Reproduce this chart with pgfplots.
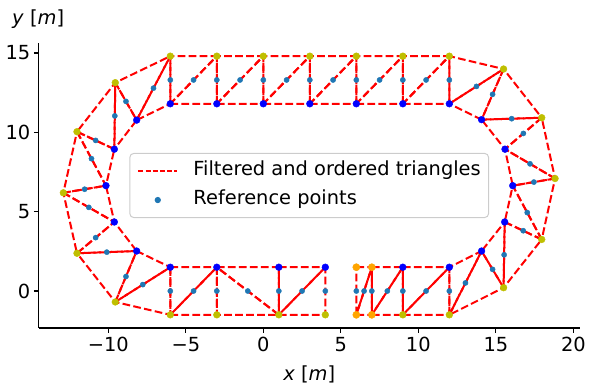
\documentclass[border=0pt]{standalone}
\usepackage{fontspec}
\setmainfont{DejaVu Sans}
\usepackage{pgfplots}
\pgfplotsset{compat=1.18}
\definecolor{tabblue}{HTML}{1F77B4}
\definecolor{mplyellow}{rgb}{0.75,0.75,0}
\definecolor{mplorange}{HTML}{FFA500}
\definecolor{mplblue}{rgb}{0,0,1}
\tikzset{tri/.style={color=red, line width=2pt, dash pattern=on 7.7pt off 3.3pt, line cap=butt, line join=round, mark=none}}
\newcommand\tri[3]{\addplot[tri, forget plot] coordinates {#1 #2 #3 #1};}
\newcommand\fs{\fontsize{19.4}{23}\selectfont}
\begin{document}
\begin{tikzpicture}
\begin{axis}[
  name=ax, scale only axis, width=541pt, height=285pt,
  xmin=-14.49, xmax=20.41, ymin=-2.33, ymax=15.63,
  axis x line*=bottom, axis y line*=left,
  axis line style={-, line width=1.1pt, black},
  tick align=outside, major tick length=4.9pt,
  tick style={line width=1.1pt, black},
  xtick={-10,-5,0,5,10,15,20}, xticklabels={−10,−5,0,5,10,15,20},
  ytick={0,5,10,15}, yticklabels={0,5,10,15},
  tick label style={font=\fs},
  xticklabel style={yshift=-1pt},
  xlabel={\textit{x} [\textit{m}]}, ylabel={\textit{y} [\textit{m}]},
  label style={font=\fs},
  xlabel style={at={(axis description cs:0.5,0)}, anchor=center, yshift=-46pt},
  ylabel style={at={(axis description cs:0,1)}, rotate=-90, anchor=center, yshift=24pt, xshift=-0.5pt},
  legend style={at={(0.5,0.5)}, anchor=center, draw=black!20, line width=1pt,
    rounded corners=3.9pt, fill=white, font=\fs,
    inner xsep=7.8pt, inner ysep=7.8pt, row sep=9.7pt, column sep=15.5pt,
    nodes={inner sep=0pt, text height=14.5pt, text depth=4.9pt}},
  legend cell align=left,
  legend image code/.code={\draw[mark repeat=2,mark phase=2,#1] plot coordinates {(0pt,0pt) (19.45pt,0pt) (38.9pt,0pt)};},
  clip=false,
]
\addlegendimage{color=red, line width=1.4pt, dash pattern=on 5pt off 2.2pt, line cap=butt, mark=none}
\addlegendentry{Filtered and ordered triangles}
\addlegendimage{only marks, mark=*, color=tabblue, mark size=2.6pt}
\addlegendentry{Reference points}

% bottom straight
\tri{(-6,1.5)}{(-3,1.5)}{(-6,-1.5)}
\tri{(-6,-1.5)}{(-3,-1.5)}{(-3,1.5)}
\tri{(-3,1.5)}{(1,1.5)}{(1,-1.5)}
\tri{(-3,1.5)}{(-3,-1.5)}{(1,-1.5)}
\tri{(1,1.5)}{(4,1.5)}{(1,-1.5)}
\tri{(1,-1.5)}{(4,-1.5)}{(4,1.5)}
\tri{(6,1.5)}{(7,1.5)}{(6,-1.5)}
\tri{(6,-1.5)}{(7,-1.5)}{(7,1.5)}
\tri{(7,1.5)}{(9,1.5)}{(7,-1.5)}
\tri{(7,-1.5)}{(9,-1.5)}{(9,1.5)}
\tri{(9,1.5)}{(12,1.5)}{(9,-1.5)}
\tri{(9,-1.5)}{(12,-1.5)}{(12,1.5)}
% right curve
\tri{(12,-1.5)}{(12,1.5)}{(14.08,2.52)}
\tri{(12,-1.5)}{(14.08,2.52)}{(15.5,0.21)}
\tri{(15.5,0.21)}{(14.08,2.52)}{(15.57,4.35)}
\tri{(15.5,0.21)}{(15.57,4.35)}{(17.96,3.25)}
\tri{(17.96,3.25)}{(15.57,4.35)}{(16.09,6.64)}
\tri{(17.96,3.25)}{(16.09,6.64)}{(18.82,7.09)}
\tri{(18.82,7.09)}{(16.09,6.64)}{(15.59,8.94)}
\tri{(18.82,7.09)}{(15.59,8.94)}{(17.96,10.92)}
\tri{(17.96,10.92)}{(15.59,8.94)}{(14.08,10.8)}
\tri{(17.96,10.92)}{(14.08,10.8)}{(15.5,13.99)}
\tri{(15.5,13.99)}{(14.08,10.8)}{(12,11.8)}
\tri{(15.5,13.99)}{(12,11.8)}{(12,14.8)}
% top straight
\tri{(9,11.8)}{(9,14.8)}{(12,14.8)}
\tri{(9,11.8)}{(12,11.8)}{(12,14.8)}
\tri{(6,11.8)}{(6,14.8)}{(9,14.8)}
\tri{(6,11.8)}{(9,11.8)}{(9,14.8)}
\tri{(3,11.8)}{(3,14.8)}{(6,14.8)}
\tri{(3,11.8)}{(6,11.8)}{(6,14.8)}
\tri{(0,11.8)}{(0,14.8)}{(3,14.8)}
\tri{(0,11.8)}{(3,11.8)}{(3,14.8)}
\tri{(-3,11.8)}{(-3,14.8)}{(0,14.8)}
\tri{(-3,11.8)}{(0,11.8)}{(0,14.8)}
\tri{(-6,11.8)}{(-6,14.8)}{(-3,14.8)}
\tri{(-6,11.8)}{(-3,11.8)}{(-3,14.8)}
% left curve
\tri{(-6,14.8)}{(-6,11.8)}{(-8.17,10.77)}
\tri{(-6,14.8)}{(-8.17,10.77)}{(-9.55,13.13)}
\tri{(-9.55,13.13)}{(-8.17,10.77)}{(-9.61,8.94)}
\tri{(-9.55,13.13)}{(-9.61,8.94)}{(-12.02,10.04)}
\tri{(-12.02,10.04)}{(-9.61,8.94)}{(-10.15,6.64)}
\tri{(-12.02,10.04)}{(-10.15,6.64)}{(-12.9,6.19)}
\tri{(-12.9,6.19)}{(-10.15,6.64)}{(-9.61,4.35)}
\tri{(-12.9,6.19)}{(-9.61,4.35)}{(-12.02,2.38)}
\tri{(-12.02,2.38)}{(-9.61,4.35)}{(-8.17,2.52)}
\tri{(-12.02,2.38)}{(-8.17,2.52)}{(-9.55,-0.69)}
\tri{(-9.55,-0.69)}{(-8.17,2.52)}{(-6,1.5)}
\tri{(-9.55,-0.69)}{(-6,1.5)}{(-6,-1.5)}

% inner cones
\addplot[only marks, mark=*, color=mplblue, mark size=3.4pt, forget plot] coordinates {
(-6,1.5) (-3,1.5) (1,1.5) (4,1.5) (9,1.5) (12,1.5)
(14.08,2.52) (15.57,4.35) (16.09,6.64) (15.59,8.94) (14.08,10.8)
(12,11.8) (9,11.8) (6,11.8) (3,11.8) (0,11.8) (-3,11.8) (-6,11.8)
(-8.17,10.77) (-9.61,8.94) (-10.15,6.64) (-9.61,4.35) (-8.17,2.52)
};
% outer cones
\addplot[only marks, mark=*, color=mplyellow, mark size=3.4pt, forget plot] coordinates {
(-6,-1.5) (-3,-1.5) (1,-1.5) (4,-1.5) (9,-1.5) (12,-1.5)
(15.5,0.21) (17.96,3.25) (18.82,7.09) (17.96,10.92) (15.5,13.99)
(12,14.8) (9,14.8) (6,14.8) (3,14.8) (0,14.8) (-3,14.8) (-6,14.8)
(-9.55,13.13) (-12.02,10.04) (-12.9,6.19) (-12.02,2.38) (-9.55,-0.69)
};
% orange cones
\addplot[only marks, mark=*, color=mplorange, mark size=3.6pt, forget plot] coordinates {
(6,1.5) (7,1.5) (6,-1.5) (7,-1.5)
};
% reference points
\addplot[only marks, mark=*, color=tabblue, mark size=2.6pt, forget plot] coordinates {
(-6,0) (-4.5,0) (-3,0) (-1,0) (1,0) (2.5,0) (4,0) (6,0) (6.5,0) (7,0) (8,0) (9,0) (10.5,0) (12,0)
(13.04,0.51) (14.79,1.365) (15.535,2.28) (16.765,3.8) (17.025,4.945) (17.455,6.865)
(17.205,8.015) (16.775,9.93) (16.02,10.86) (14.79,12.395) (13.75,12.895)
(12,13.3) (10.5,13.3) (9,13.3) (7.5,13.3) (6,13.3) (4.5,13.3) (3,13.3) (1.5,13.3) (0,13.3)
(-1.5,13.3) (-3,13.3) (-4.5,13.3) (-6,13.3)
(-7.085,12.785) (-8.86,11.95) (-9.58,11.035) (-10.815,9.49) (-11.085,8.34) (-11.525,6.415)
(-11.255,5.27) (-10.815,3.365) (-10.095,2.45) (-8.86,0.915) (-7.775,0.405)
};
\end{axis}
\pgfresetboundingbox
\path[use as bounding box] ([shift={(-38.7pt,-64pt)}]ax.south west) rectangle ([shift={(10.3pt,43pt)}]ax.north east);
\end{tikzpicture}
\end{document}
